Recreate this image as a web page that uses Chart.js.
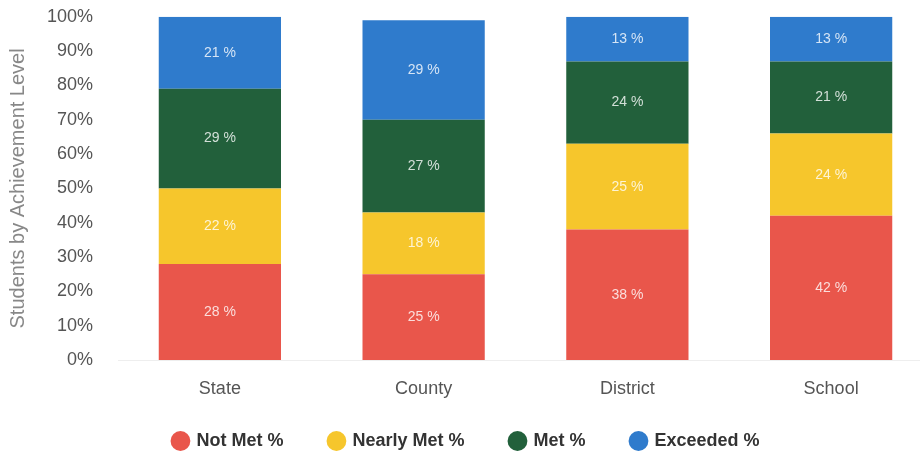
<!DOCTYPE html>
<html>
<head>
<meta charset="utf-8">
<script src="https://cdn.jsdelivr.net/npm/chart.js@4"></script>
<style>
  html, body { margin: 0; padding: 0; background: #fff; overflow: hidden; }
  /* canvas is a bit larger than the window: the source chart is cropped on the right and top */
  #wrap { position: absolute; left: 0; top: -11px; width: 933px; height: 467px; }
</style>
</head>
<body>
<div id="wrap"><canvas id="achChart"></canvas></div>
<script>
'use strict';

// data
const categories = ['State', 'County', 'District', 'School'];
const notMet     = [28, 25, 38, 42];
const nearlyMet  = [22, 18, 25, 24];
const met        = [29, 27, 24, 21];
const exceeded   = [21, 29, 13, 13];
const yTicks     = [0, 10, 20, 30, 40, 50, 60, 70, 80, 90, 100];

const FONT = '"Liberation Sans", Arial, sans-serif';
const COLORS = {
  notMet: '#e9564b',
  nearly: '#f6c62c',
  met: '#22603b',
  exceeded: '#2f7bcc'
};

// draws "NN %" in the middle of each segment
const segmentLabels = {
  id: 'segmentLabels',
  afterDatasetsDraw(chart) {
    const { ctx } = chart;
    ctx.save();
    ctx.font = '14px ' + FONT;
    ctx.fillStyle = 'rgba(255,255,255,0.8)';
    ctx.textAlign = 'center';
    ctx.textBaseline = 'middle';
    chart.data.datasets.forEach((ds, i) => {
      const meta = chart.getDatasetMeta(i);
      meta.data.forEach((bar, j) => {
        const { x, y, base } = bar.getProps(['x', 'y', 'base'], true);
        ctx.fillText(ds.data[j] + ' %', x, (y + base) / 2);
      });
    });
    ctx.restore();
  }
};

// legend uses a wide item padding; pin its box height and lift the items a little
const legendBox = {
  id: 'legendBox',
  beforeInit(chart) {
    const fit = chart.legend.fit;
    chart.legend.fit = function () {
      fit.call(this);
      this.height = 56;
    };
  },
  afterLayout(chart) {
    chart.legend.top -= 14;   // bottom stays put so the legend clip box still covers the items
  }
};

function mkSet(label, data, color) {
  return {
    label, data,
    backgroundColor: color,
    borderWidth: 0,
    categoryPercentage: 0.6,
    barPercentage: 1
  };
}

new Chart(document.getElementById('achChart'), {
  type: 'bar',
  data: {
    labels: categories,
    datasets: [
      mkSet('Not Met %', notMet, COLORS.notMet),
      mkSet('Nearly Met %', nearlyMet, COLORS.nearly),
      mkSet('Met %', met, COLORS.met),
      mkSet('Exceeded %', exceeded, COLORS.exceeded)
    ]
  },
  options: {
    responsive: true, maintainAspectRatio: false, animation: false,
    layout: { padding: 0 },
    plugins: {
      tooltip: { enabled: false },
      legend: {
        position: 'bottom',
        labels: {
          usePointStyle: true, pointStyle: 'circle', boxWidth: 14, boxHeight: 14,
          padding: 46, color: '#333',
          font: { family: FONT, size: 18, weight: 'bold' }
        }
      }
    },
    scales: {
      x: {
        stacked: true,
        afterFit: axis => { axis.height = 40; },
        grid: { display: false },
        border: { display: true, color: '#eee' },
        ticks: { color: '#555', padding: 10, font: { family: FONT, size: 18 } }
      },
      y: {
        stacked: true, min: 0, max: 100,
        afterBuildTicks: axis => { axis.ticks = yTicks.map(v => ({ value: v })); },
        afterFit: axis => { axis.width = 118; },
        grid: { display: false },
        border: { display: false },
        ticks: {
          color: '#555', padding: 17,
          font: { family: FONT, size: 18 },
          callback: v => v + '%'
        },
        title: {
          display: true, text: 'Students by Achievement Level', color: '#888',
          padding: { top: 6, bottom: 0 },
          font: { family: FONT, size: 20 }
        }
      }
    }
  },
  plugins: [segmentLabels, legendBox]
});
</script>
</body>
</html>
